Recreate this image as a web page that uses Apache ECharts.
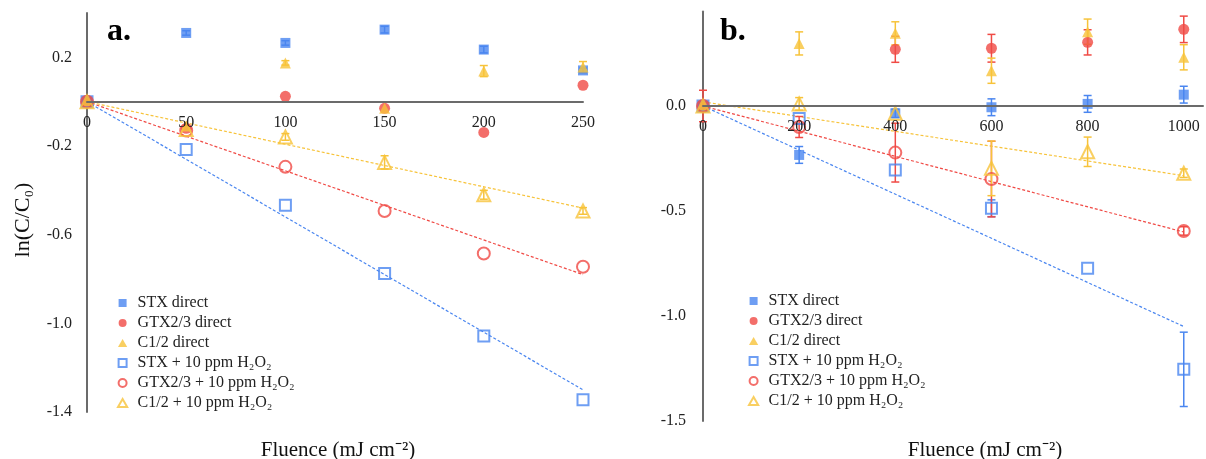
<!DOCTYPE html>
<html><head><meta charset="utf-8">
<script src="https://cdn.jsdelivr.net/npm/echarts@6/dist/echarts.min.js"></script>
<style>html,body{margin:0;padding:0;background:#fff}#c{width:1206px;height:459px}</style>
</head><body><div id="c"></div>
<script>
// ---------- data ----------
const seriesNames = ['STX direct', 'GTX2/3 direct', 'C1/2 direct',
  'STX + 10 ppm H\u2082O\u2082', 'GTX2/3 + 10 ppm H\u2082O\u2082', 'C1/2 + 10 ppm H\u2082O\u2082'];

// panel a
const fluenceA = [0, 50, 100, 150, 200, 250];
const stxDirectA = [0, 0.31, 0.265, 0.325, 0.235, 0.141];
const gtxDirectA = [0, -0.12, 0.024, -0.03, -0.139, 0.074];
const c12DirectA = [0, -0.11, 0.175, -0.03, 0.138, 0.156];
const stxH2O2A = [0, -0.216, -0.467, -0.775, -1.057, -1.345];
const gtxH2O2A = [0, -0.13, -0.294, -0.493, -0.685, -0.745];
const c12H2O2A = [0, -0.125, -0.159, -0.274, -0.42, -0.493];
const stxDirectErrA = [0, 0.01, 0.01, 0.015, 0.015, 0.01];
const c12DirectErrA = [0, 0, 0.01, 0, 0.025, 0.025];
const c12H2O2ErrA = [0, 0, 0.015, 0.03, 0.02, 0.015];
const trendXA = [0, 250];
const stxTrendA = [0, -1.30];
const gtxTrendA = [0, -0.78];
const c12TrendA = [0, -0.48];
const yTickLabelsA = [0.2, -0.2, -0.6, -1.0, -1.4];
const xTickLabelsA = [0, 50, 100, 150, 200, 250];

// panel b
const fluenceB = [0, 200, 400, 600, 800, 1000];
const stxDirectB = [0, -0.233, -0.035, -0.006, 0.01, 0.054];
const gtxDirectB = [0, null, 0.27, 0.275, 0.303, 0.365];
const c12DirectB = [0, 0.298, 0.346, 0.168, 0.354, 0.232];
const stxH2O2B = [0, -0.06, -0.305, -0.487, -0.773, -1.254];
const gtxH2O2B = [0, -0.1, -0.222, -0.348, null, -0.595];
const c12H2O2B = [0, 0.01, -0.035, -0.297, -0.218, -0.32];
const stxDirectErrB = [0, 0.04, 0.02, 0.04, 0.04, 0.04];
const gtxDirectErrB = [0.075, 0, 0.062, 0.066, 0.06, 0.063];
const c12DirectErrB = [0, 0.055, 0.055, 0.06, 0.06, 0.06];
const stxH2O2ErrB = [0, 0, 0, 0.04, 0, 0.177];
const gtxH2O2ErrB = [0, 0.05, 0.14, 0.18, 0, 0.02];
const c12H2O2ErrB = [0, 0.03, 0, 0.13, 0.07, 0.02];
const trendXB = [0, 1000];
const stxTrendB = [0, -1.05];
const gtxTrendB = [0, -0.60];
const c12TrendB = [0.02, -0.332];
const yTickLabelsB = [0, -0.5, -1.0, -1.5];
const xTickLabelsB = [0, 200, 400, 600, 800, 1000];

// ---------- styling ----------
const BLUE = '#4a86f0', RED = '#f04a45', YEL = '#f7c33a';
const FONT = "'Liberation Serif','Times New Roman',serif";
const styles = [
  {symbol: 'rect', size: 10, color: BLUE, filled: true, icon: 'path://M0 0H10V10H0Z'},
  {symbol: 'circle', size: 11, color: RED, filled: true, icon: 'circle'},
  {symbol: 'triangle', size: 11, color: YEL, filled: true, icon: 'path://M5 0L10 8.7H0Z'},
  {symbol: 'rect', size: 11, color: BLUE, filled: false, icon: 'path://M0 0H10V10H0Z'},
  {symbol: 'circle', size: 12, color: RED, filled: false, icon: 'circle'},
  {symbol: 'triangle', size: 13, color: YEL, filled: false, icon: 'path://M5 0L10 8.7H0Z'}
];

const gridA = {left: 87, top: 13, width: 496, height: 399};
const gridB = {left: 703, top: 11.5, width: 502, height: 409.5};
const yRangeA = [-1.4, 0.4], yRangeB = [-1.5, 0.45];
// x axis sits on y = 0 (move it up from the grid bottom)
function zeroOffset(grid, r) { return -grid.height * (0 - r[0]) / (r[1] - r[0]); }

function pts(xs, ys) {
  const out = [];
  xs.forEach((x, i) => { if (ys[i] !== null && ys[i] !== undefined) out.push([x, ys[i]]); });
  return out;
}
function scatter(idx, xs, ys, ax) {
  const s = styles[idx];
  return {
    name: seriesNames[idx], type: 'scatter', xAxisIndex: ax, yAxisIndex: ax,
    symbol: s.symbol, symbolSize: s.size, z: 5,
    itemStyle: s.filled ? {color: s.color} : {color: 'rgba(255,255,255,0)', borderColor: s.color, borderWidth: 2},
    data: pts(xs, ys)
  };
}
function errRender(params, api) {
  const x = api.value(0), y = api.value(1), e = api.value(2);
  if (!e) return null;
  const t = api.coord([x, y + e]), b = api.coord([x, y - e]);
  const w = 4;
  const st = {stroke: api.visual('color'), lineWidth: 1.5};
  return {type: 'group', children: [
    {type: 'line', shape: {x1: t[0], y1: t[1], x2: b[0], y2: b[1]}, style: st},
    {type: 'line', shape: {x1: t[0] - w, y1: t[1], x2: t[0] + w, y2: t[1]}, style: st},
    {type: 'line', shape: {x1: b[0] - w, y1: b[1], x2: b[0] + w, y2: b[1]}, style: st}
  ]};
}
function errSeries(tag, xs, ys, es, color, ax) {
  const data = [];
  xs.forEach((x, i) => { if (ys[i] !== null && es[i]) data.push([x, ys[i], es[i]]); });
  return {name: 'err-' + tag, type: 'custom', xAxisIndex: ax, yAxisIndex: ax, z: 4,
    itemStyle: {color: color}, renderItem: errRender, encode: {x: 0, y: 1}, data: data, silent: true};
}
function trend(tag, xs, ys, color, ax) {
  return {name: 'trend-' + tag, type: 'line', xAxisIndex: ax, yAxisIndex: ax, z: 3,
    showSymbol: false, silent: true,
    lineStyle: {type: [3, 2], width: 1.2, color: color},
    data: pts(xs, ys)};
}
function near(v, list) { return list.some(t => Math.abs(v - t) < 1e-6); }

const axisLine = {onZero: false, lineStyle: {color: '#6b6b6b', width: 2}};
const labelStyle = {fontFamily: FONT, fontSize: 16, color: '#222'};
const legendData = seriesNames.map((n, i) => ({name: n, icon: styles[i].icon}));
const legendCommon = {data: legendData, orient: 'vertical', itemWidth: 20, itemHeight: 8, itemGap: 4,
  selectedMode: false, textStyle: {fontFamily: FONT, fontSize: 16, color: '#222', lineHeight: 16}};

const option = {
  animation: false,
  backgroundColor: '#fff',
  grid: [gridA, gridB],
  xAxis: [
    {type: 'value', gridIndex: 0, min: 0, max: 250, interval: 50, offset: zeroOffset(gridA, yRangeA),
     axisLine: axisLine, axisTick: {show: false}, splitLine: {show: false}, z: 6,
     axisLabel: Object.assign({margin: 13, formatter: v => near(v, xTickLabelsA) ? String(v) : ''}, labelStyle)},
    {type: 'value', gridIndex: 1, min: 0, max: 1040, interval: 200, offset: zeroOffset(gridB, yRangeB),
     axisLine: axisLine, axisTick: {show: false}, splitLine: {show: false}, z: 6,
     axisLabel: Object.assign({margin: 13, formatter: v => near(v, xTickLabelsB) ? String(v) : ''}, labelStyle)}
  ],
  yAxis: [
    {type: 'value', gridIndex: 0, min: yRangeA[0], max: yRangeA[1], interval: 0.2,
     axisLine: axisLine, axisTick: {show: false}, splitLine: {show: false},
     axisLabel: Object.assign({margin: 15, formatter: v => near(v, yTickLabelsA) ? v.toFixed(1) : ''}, labelStyle)},
    {type: 'value', gridIndex: 1, min: yRangeB[0], max: yRangeB[1], interval: 0.5,
     axisLine: axisLine, axisTick: {show: false}, splitLine: {show: false},
     axisLabel: Object.assign({margin: 17, formatter: v => near(v, yTickLabelsB) ? v.toFixed(1) : ''}, labelStyle)}
  ],
  legend: [
    Object.assign({left: 112, top: 290}, legendCommon),
    Object.assign({left: 743, top: 288}, legendCommon)
  ],
  graphic: [
    {type: 'text', x: 107, y: 32, style: {text: 'a.', font: "bold 32px " + FONT, fill: '#000', verticalAlign: 'middle'}},
    {type: 'text', x: 720, y: 32, style: {text: 'b.', font: "bold 32px " + FONT, fill: '#000', verticalAlign: 'middle'}},
    {type: 'text', x: 23, y: 220, rotation: Math.PI / 2,
     style: {text: 'ln(C/C\u2080)', font: "22px " + FONT, fill: '#111', align: 'center', verticalAlign: 'middle'}},
    {type: 'text', x: 338, y: 450,
     style: {text: 'Fluence (mJ cm\u207B\u00B2)', font: "21px " + FONT, fill: '#111', align: 'center', verticalAlign: 'middle'}},
    {type: 'text', x: 985, y: 450,
     style: {text: 'Fluence (mJ cm\u207B\u00B2)', font: "21px " + FONT, fill: '#111', align: 'center', verticalAlign: 'middle'}}
  ],
  series: [
    trend('stx-a', trendXA, stxTrendA, BLUE, 0),
    trend('gtx-a', trendXA, gtxTrendA, RED, 0),
    trend('c12-a', trendXA, c12TrendA, YEL, 0),
    errSeries('stxd-a', fluenceA, stxDirectA, stxDirectErrA, BLUE, 0),
    errSeries('c12d-a', fluenceA, c12DirectA, c12DirectErrA, YEL, 0),
    errSeries('c12h-a', fluenceA, c12H2O2A, c12H2O2ErrA, YEL, 0),
    scatter(0, fluenceA, stxDirectA, 0),
    scatter(1, fluenceA, gtxDirectA, 0),
    scatter(2, fluenceA, c12DirectA, 0),
    scatter(3, fluenceA, stxH2O2A, 0),
    scatter(4, fluenceA, gtxH2O2A, 0),
    scatter(5, fluenceA, c12H2O2A, 0),

    trend('stx-b', trendXB, stxTrendB, BLUE, 1),
    trend('gtx-b', trendXB, gtxTrendB, RED, 1),
    trend('c12-b', trendXB, c12TrendB, YEL, 1),
    errSeries('stxd-b', fluenceB, stxDirectB, stxDirectErrB, BLUE, 1),
    errSeries('gtxd-b', fluenceB, gtxDirectB, gtxDirectErrB, RED, 1),
    errSeries('c12d-b', fluenceB, c12DirectB, c12DirectErrB, YEL, 1),
    errSeries('stxh-b', fluenceB, stxH2O2B, stxH2O2ErrB, BLUE, 1),
    errSeries('gtxh-b', fluenceB, gtxH2O2B, gtxH2O2ErrB, RED, 1),
    errSeries('c12h-b', fluenceB, c12H2O2B, c12H2O2ErrB, YEL, 1),
    scatter(0, fluenceB, stxDirectB, 1),
    scatter(1, fluenceB, gtxDirectB, 1),
    scatter(2, fluenceB, c12DirectB, 1),
    scatter(3, fluenceB, stxH2O2B, 1),
    scatter(4, fluenceB, gtxH2O2B, 1),
    scatter(5, fluenceB, c12H2O2B, 1)
  ]
};
const chart = echarts.init(document.getElementById('c'), null, {renderer: 'canvas'});
chart.setOption(option);
</script>
</body></html>
